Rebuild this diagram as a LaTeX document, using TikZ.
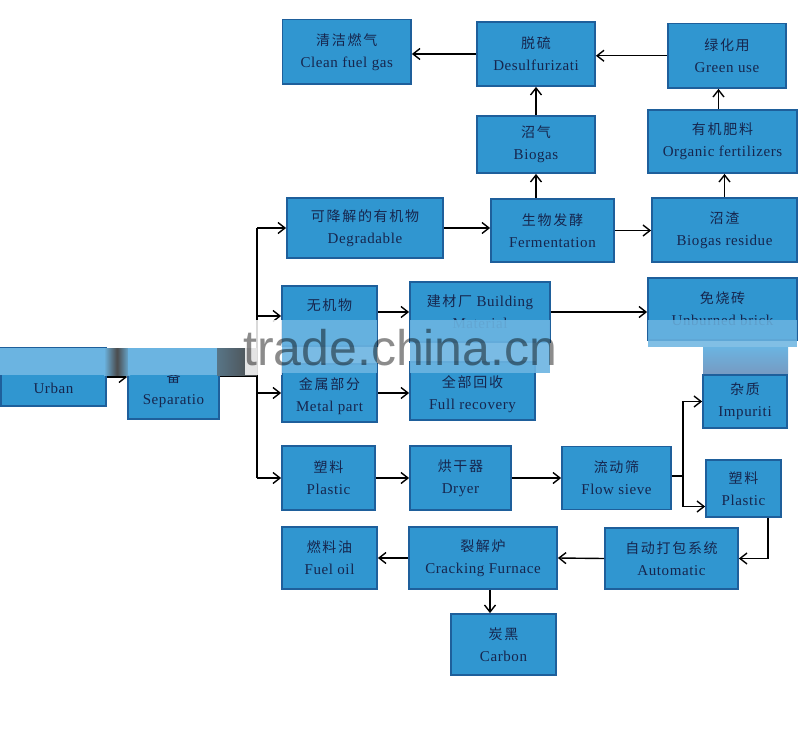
\documentclass[tikz,border=0pt]{standalone}
\usepackage{fontspec}
\setmainfont{Liberation Serif}[LetterSpace=4]
\newfontfamily\cjk{Noto Sans CJK SC}[LetterSpace=12]
\newfontfamily\wmfont{Liberation Sans}
\usetikzlibrary{arrows.meta,calc}
\definecolor{boxfill}{RGB}{48,150,208}
\definecolor{boxline}{RGB}{30,95,155}
\definecolor{boxtext}{RGB}{22,38,78}
\definecolor{bandblue}{RGB}{107,180,225}
\definecolor{bandgray}{RGB}{75,75,75}
\definecolor{bandslate}{RGB}{118,155,195}
\newcommand\zh[1]{{\cjk\fontsize{14}{22}\selectfont #1}}
\tikzset{
  box/.style 2 args={draw=boxline, line width=1.8pt, fill=boxfill, minimum width=#1,
    minimum height=#2, inner sep=0pt, align=center, text=boxtext,
    font=\fontsize{15}{22}\selectfont},
  arr/.style={line width=1.4pt, -{Straight Barb[length=7pt,width=11pt]}},
  ln/.style={line width=1.4pt},
}
\begin{document}
\begin{tikzpicture}[x=1pt,y=-1pt]
\useasboundingbox (0,0) rectangle (800,728);
% boxes
\node[box={128.5pt}{64.5pt}] (clean) at (346.75,51.75) {\zh{清洁燃气}\\Clean fuel gas};
\node[box={118pt}{64pt}] (desulf) at (536,54) {\zh{脱硫}\\Desulfurizati};
\node[box={118pt}{64.5pt}] (green) at (727,55.75) {\zh{绿化用}\\Green use};
\node[box={118pt}{57pt}] (biogas) at (536,144.5) {\zh{沼气}\\Biogas};
\node[box={149pt}{63pt}] (organic) at (722.5,141.5) {\zh{有机肥料}\\Organic fertilizers};
\node[box={123pt}{63pt}] (ferm) at (552.5,230.5) {\zh{生物发酵}\\Fermentation};
\node[box={145pt}{64pt}] (residue) at (724.5,230) {\zh{沼渣}\\Biogas residue};
\node[box={156pt}{60pt}] (degr) at (365,228) {\zh{可降解的有机物}\\Degradable};
\node[box={95pt}{60pt}] (inorg) at (329.5,316) {\zh{无机物}\\\rule{0pt}{1pt}};
\node[box={140pt}{60pt}] (build) at (480,312) {\zh{建材厂} Building\\Material};
\node[box={149pt}{62pt}] (brick) at (722.5,309) {\zh{免烧砖}\\Unburned brick};
\node[box={95pt}{58pt}] (metal) at (329.5,393) {\rule{0pt}{18pt}\zh{金属部分}\\Metal part};
\node[box={125pt}{58pt}] (full) at (472.5,391) {\rule{0pt}{18pt}\zh{全部回收}\\Full recovery};
\node[box={84pt}{53pt}] (impur) at (745,401.5) {\zh{杂质}\\Impuriti};
\node[box={93pt}{64pt}] (plas1) at (328.5,478) {\zh{塑料}\\Plastic};
\node[box={101pt}{64pt}] (dryer) at (460.5,478) {\zh{烘干器}\\Dryer};
\node[box={109pt}{63pt}] (sieve) at (616.5,478) {\zh{流动筛}\\Flow sieve};
\node[box={75pt}{57pt}] (plas2) at (743.5,488.5) {\zh{塑料}\\Plastic};
\node[box={133pt}{61pt}] (auto) at (671.5,558.5) {\zh{自动打包系统}\\Automatic};
\node[box={148pt}{62pt}] (crack) at (483,558) {\zh{裂解炉}\\Cracking Furnace};
\node[box={95pt}{62pt}] (fuel) at (329.5,558) {\zh{燃料油}\\Fuel oil};
\node[box={105pt}{61pt}] (carbon) at (503.5,644.5) {\zh{炭黑}\\Carbon};
\node[box={105pt}{58pt}] (urban) at (53.5,377) {\rule{0pt}{12pt}\\Urban};
\node[box={91pt}{60pt}] (sep) at (173.5,389) {\zh{备}\\Separatio};
% connectors
\coordinate (trunk) at (257,376);
\draw[ln] (sep.east |- trunk) -- (trunk);
\draw[ln] (trunk |- degr.west) -- (trunk |- plas1.west);
\draw[arr] (trunk |- degr.west) -- (degr.west);
\draw[arr] (trunk |- inorg.west) -- (inorg.west);
\draw[arr] (trunk |- metal.west) -- (metal.west);
\draw[arr] (trunk |- plas1.west) -- (plas1.west);
\draw[arr] (urban.east) -- (urban.east -| sep.west);
\draw[arr] (desulf.west) -- (desulf.west -| clean.east);
\draw[arr] (green.west) -- (green.west -| desulf.east);
\draw[arr] (biogas.north) -- (desulf.south);
\draw[arr] (biogas.south |- ferm.north) -- (biogas.south);
\draw[arr] (residue.north) -- (residue.north |- organic.south);
\draw[arr] ([xshift=-4pt]organic.north) -- ([xshift=-4pt]organic.north |- green.south);
\draw[arr] (degr.east) -- (degr.east -| ferm.west);
\draw[arr] (ferm.east) -- (ferm.east -| residue.west);
\draw[arr] (build.west -| inorg.east) -- (build.west);
\draw[arr] (build.east) -- (build.east -| brick.west);
\draw[arr] (metal.east) -- (metal.east -| full.west);
\draw[arr] (plas1.east) -- (dryer.west);
\draw[arr] (dryer.east) -- (sieve.west);
\coordinate (split) at (683,476);
\draw[ln] (sieve.east |- split) -- (split);
\draw[arr] (split) |- (impur.west);
\draw[arr] (split) |- ([yshift=-18pt]plas2.west);
\draw[arr] ([xshift=24.5pt]plas2.south) |- (auto.east);
\draw[arr] (auto.west) -- (crack.east);
\draw[arr] (crack.west) -- (fuel.east);
\draw[arr] ([xshift=7pt]crack.south) -- ([xshift=7pt]crack.south |- carbon.north);
% watermark band
\fill[bandblue] (0,348) rectangle (106,375);
\shade[left color=bandblue, right color=bandblue, middle color=bandgray] (104,348) rectangle (130,375);
\fill[bandblue] (128,348) rectangle (219,375);
\shade[left color=bandblue!40!bandgray, right color=bandgray] (217,348) rectangle (257,375);
\fill[white, opacity=0.85] (245,320) rectangle (282,375);
\fill[bandblue, opacity=0.9] (282,320) rectangle (377,373);
\fill[bandblue, opacity=0.9] (410,320) rectangle (550,373);
\fill[bandblue, opacity=0.85] (648,320) rectangle (797,347);
\shade[top color=bandblue, bottom color=bandslate] (703,347) rectangle (788,373);
\node[anchor=base west, inner sep=0pt, font=\wmfont\fontsize{50}{50}\selectfont,
  text=black, text opacity=0.45] (wm) at (243,365) {trade.china.cn};
\end{tikzpicture}
\end{document}
